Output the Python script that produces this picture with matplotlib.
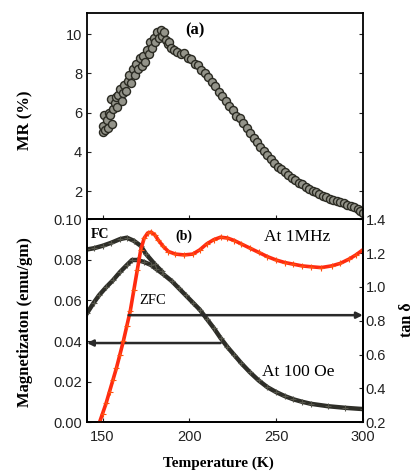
import numpy as np
import matplotlib
matplotlib.use("Agg")
import matplotlib.pyplot as plt

# ---- data ----
# (a) magnetoresistance
mr_temp = [150.0, 150.5, 151.0, 151.5, 152.5, 153.0, 153.5, 154.5, 155.0, 155.5,
           156.0, 157.0, 157.5, 158.5, 159.0, 160.0, 161.0, 161.5, 162.5, 163.5,
           164.5, 165.5, 166.5, 167.5, 168.5, 169.5, 170.5, 171.5, 172.5, 173.5,
           174.5, 175.5, 176.5, 177.5, 178.5, 179.5, 180.5, 181.5, 182.5, 183.5,
           184.5, 185.5, 186.5, 187.5, 188.5, 189.5, 191.0, 193.0, 195.0, 197.0,
           199.0, 201.0, 203.0, 205.0, 207.0, 209.0, 211.0, 213.0, 215.0, 217.0,
           219.0, 221.0, 223.0, 225.0, 227.0, 229.0, 231.0, 233.0, 235.0, 237.0,
           239.0, 241.0, 243.0, 245.0, 247.0, 249.0, 251.0, 253.0, 255.0, 257.0,
           259.0, 261.0, 263.0, 265.0, 267.0, 269.0, 271.0, 273.0, 275.0, 277.0,
           279.0, 281.0, 283.0, 285.0, 287.0, 289.0, 291.0, 293.0, 295.0, 297.0,
           298.5, 300.0]
mr_val = [5.0, 5.3, 5.9, 5.1, 5.6, 5.2, 6.0, 5.9, 6.7, 5.4,
          6.2, 6.5, 6.8, 6.3, 6.9, 7.2, 6.6, 7.0, 7.4, 7.1,
          7.6, 7.9, 7.5, 8.2, 7.9, 8.5, 8.2, 8.8, 8.4, 8.9,
          8.6, 9.2, 9.0, 9.6, 9.3, 9.8, 9.6, 10.1, 9.8, 10.2,
          9.9, 10.1, 9.7, 9.5, 9.6, 9.3, 9.2, 9.1, 9.0, 9.05,
          8.8, 8.75, 8.5, 8.45, 8.15, 8.0, 7.8, 7.55, 7.35, 7.05,
          6.85, 6.6, 6.35, 6.15, 5.85, 5.7, 5.45, 5.2, 4.95, 4.7,
          4.5, 4.25, 4.05, 3.85, 3.65, 3.45, 3.25, 3.1, 2.95, 2.8,
          2.65, 2.55, 2.4, 2.35, 2.2, 2.1, 2.0, 1.95, 1.85, 1.75,
          1.7, 1.6, 1.55, 1.5, 1.42, 1.38, 1.3, 1.25, 1.2, 1.1,
          1.0, 0.9]

# (b) magnetization, field cooled (until it joins the ZFC branch)
fc_temp = [141, 145, 150, 155, 160, 164, 168, 172, 175, 180, 184]
fc_mag = [0.0852, 0.0858, 0.0870, 0.0885, 0.0903, 0.0910, 0.0895, 0.0870,
          0.0830, 0.0780, 0.0745]

# zero field cooled
zfc_temp = [141, 145, 148, 152, 156, 160, 164, 167, 170, 174, 178, 181, 185,
            190, 194, 198, 202, 206, 210, 214, 218, 222, 226, 230, 235, 240,
            245, 250, 255, 260, 265, 270, 280, 290, 300]
zfc_mag = [0.0537, 0.0590, 0.0626, 0.0665, 0.0700, 0.0740, 0.0775, 0.0800,
           0.0800, 0.0790, 0.0775, 0.0755, 0.0730, 0.0695, 0.0660, 0.0625,
           0.0590, 0.0555, 0.0510, 0.0465, 0.0415, 0.0370, 0.0330, 0.0290,
           0.0245, 0.0205, 0.0172, 0.0148, 0.0128, 0.0112, 0.0100, 0.0090,
           0.0078, 0.0070, 0.0064]

# dielectric loss at 1 MHz
tan_temp = [148.3, 150, 152, 154, 156, 158, 160, 162, 164, 166, 168, 170, 172,
            174, 176, 178, 180, 182, 185, 188, 192, 197, 202, 206, 210, 214,
            218, 222, 226, 230, 235, 240, 245, 250, 255, 260, 265, 270, 276,
            282, 287, 292, 296, 300]
tan_val = [0.20, 0.25, 0.31, 0.38, 0.45, 0.52, 0.60, 0.68, 0.77, 0.86, 0.98,
           1.10, 1.22, 1.29, 1.32, 1.325, 1.31, 1.28, 1.24, 1.21, 1.195, 1.19,
           1.195, 1.22, 1.255, 1.28, 1.295, 1.29, 1.275, 1.255, 1.23, 1.205,
           1.18, 1.16, 1.145, 1.135, 1.125, 1.12, 1.115, 1.125, 1.14, 1.165,
           1.19, 1.22]

x_ticks = [150, 200, 250, 300]
mr_ticks = [2, 4, 6, 8, 10]
mag_ticks = [0.00, 0.02, 0.04, 0.06, 0.08, 0.10]
tan_ticks = [0.2, 0.4, 0.6, 0.8, 1.0, 1.2, 1.4]

sans = ["Liberation Sans", "DejaVu Sans"]
serif = ["Liberation Serif", "DejaVu Serif"]
plt.rcParams['font.family'] = sans
plt.rcParams['axes.linewidth'] = 1.3

fig = plt.figure(figsize=(4.18, 4.71), dpi=100)
ax_a = fig.add_axes([0.208, 0.534, 0.660, 0.438])
ax_b = fig.add_axes([0.208, 0.104, 0.660, 0.430])
ax_t = ax_b.twinx()

# panel (a)
ax_a.plot(mr_temp, mr_val, 'o', ms=5.8, mfc='#94948a', mec='#2a2a22', mew=1.0)
ax_a.set_xlim(141, 300)
ax_a.set_ylim(0.55, 11.07)
ax_a.set_xticks(x_ticks)
ax_a.set_yticks(mr_ticks)
ax_a.tick_params(direction='in', right=True, labelbottom=False, labelsize=10.5,
                 length=3, colors='#222222')
ax_a.text(203, 10.2, '(a)', family=serif, fontweight='bold', fontsize=12,
          ha='center', va='center')

# panel (b)
ax_b.plot(zfc_temp, zfc_mag, '-', color='#2e2e28', lw=3.2)
ax_b.plot(fc_temp, fc_mag, '-', color='#2e2e28', lw=3.2)
ax_b.plot(zfc_temp, zfc_mag, '+', color='#55554a', ms=4, mew=0.8)
ax_b.plot(fc_temp, fc_mag, '+', color='#55554a', ms=4, mew=0.8)
ax_t.plot(tan_temp, tan_val, '-', color='#ff2a10', lw=2.6)
ax_t.plot(tan_temp, tan_val, '+', color='#ff5010', ms=4, mew=0.8)

ax_b.set_xlim(141, 300)
ax_b.set_ylim(0.0, 0.10)
ax_t.set_ylim(0.2, 1.4)
ax_b.set_xticks(x_ticks)
ax_b.set_yticks(mag_ticks)
ax_b.set_yticklabels(['%.2f' % v for v in mag_ticks])
ax_t.set_yticks(tan_ticks)
ax_t.set_yticklabels(['%.1f' % v for v in tan_ticks])
ax_b.tick_params(direction='in', labelsize=10.5, length=3, colors='#222222')
ax_b.tick_params(axis='x', pad=6)
ax_t.tick_params(direction='in', labelsize=10.5, length=3, colors='#222222',
                 pad=2)

# arrows pointing to the axis each curve belongs to
ax_t.annotate('', xy=(300, 0.833), xytext=(165, 0.833),
              arrowprops=dict(arrowstyle='-|>', color='#2a2a2a', lw=1.8,
                              mutation_scale=9, shrinkA=0, shrinkB=0))
ax_b.annotate('', xy=(141, 0.039), xytext=(218, 0.039),
              arrowprops=dict(arrowstyle='-|>', color='#2a2a2a', lw=1.8,
                              mutation_scale=9, shrinkA=0, shrinkB=0))

ax_b.text(143, 0.0925, 'FC', family=serif, fontweight='bold', fontsize=10,
          ha='left', va='center')
ax_b.text(197, 0.0915, '(b)', family=serif, fontweight='bold', fontsize=10,
          ha='center', va='center')
ax_b.text(262, 0.0915, 'At 1MHz', family=serif, fontsize=12.5,
          ha='center', va='center')
ax_b.text(179, 0.060, 'ZFC', family=serif, fontsize=10.5,
          ha='center', va='center')
ax_b.text(263, 0.0245, 'At 100 Oe', family=serif, fontsize=12.5,
          ha='center', va='center')

# axis titles
fig.text(25 / 418, 1 - 120 / 471, 'MR (%)', family=serif, fontweight='bold',
         fontsize=12, rotation=90, ha='center', va='center')
fig.text(25 / 418, 1 - 322 / 471, 'Magnetizaton (emu/gm)', family=serif,
         fontweight='bold', fontsize=12, rotation=90, ha='center', va='center')
fig.text(218 / 418, 1 - 463 / 471, 'Temperature (K)', family=serif,
         fontweight='bold', fontsize=11, ha='center', va='center')
fig.text(407 / 418, 1 - 320 / 471, 'tan δ', family=serif, fontweight='bold',
         fontsize=11.5, rotation=90, ha='center', va='center')

fig.savefig('out.png', dpi=100)
